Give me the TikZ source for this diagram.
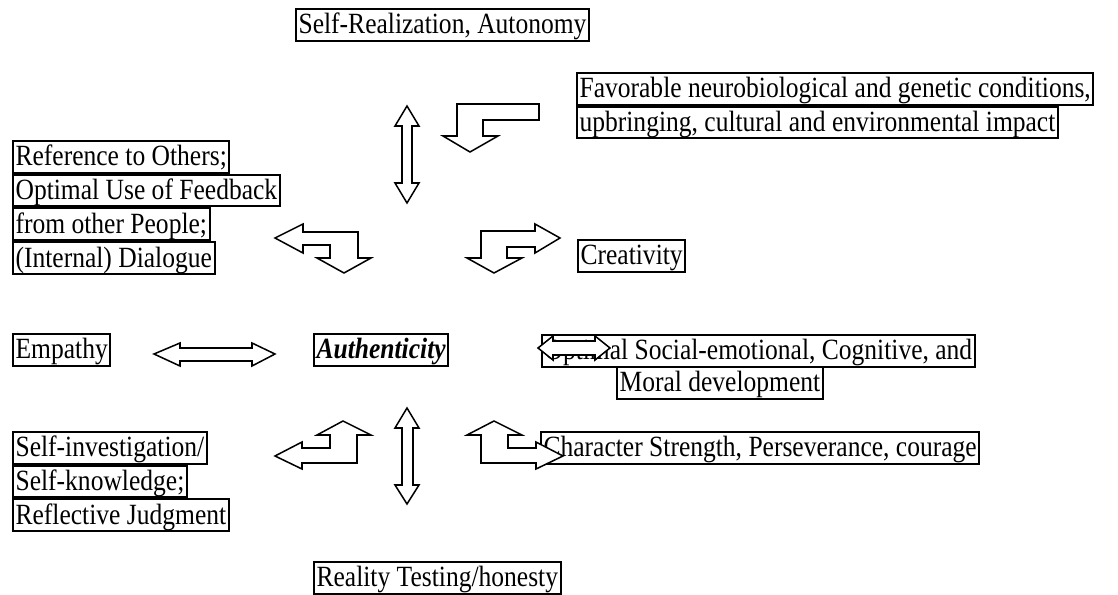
\documentclass[tikz,border=0pt]{standalone}
\usepackage{fontspec}
\setmainfont[FakeStretch=0.87]{Liberation Serif}

\begin{document}
\begin{tikzpicture}[x=0.46pt, y=-0.46pt,
    tbox/.style={draw=black, line width=0.9pt, anchor=north west, inner xsep=1.2pt, inner ysep=0.3pt,
      text height=11.2pt, text depth=2.8pt, font=\fontsize{13.5}{15}\selectfont},
    blk/.style={draw=black, fill=white, line width=0.7pt}]
    \useasboundingbox (0,0) rectangle (1118,595);

    \node[tbox] (selfreal) at (295, 8) {Self-Realization, Autonomy};
    \node[tbox] (fav1) at (576, 72) {Favorable neurobiological and genetic conditions,};
    \node[tbox] (fav2) at (fav1.south west) {upbringing, cultural and environmental impact};
    \node[tbox] (ref1) at (12, 140) {Reference to Others;};
    \node[tbox] (ref2) at (ref1.south west) {Optimal Use of Feedback};
    \node[tbox] (ref3) at (ref2.south west) {from other People;};
    \node[tbox] (ref4) at (ref3.south west) {(Internal) Dialogue};
    \node[tbox] (creat) at (577, 239) {Creativity};
    \node[tbox] (empathy) at (12, 333) {Empathy};
    \node[tbox, font=\fontsize{13.5}{15}\selectfont\bfseries\itshape] (auth) at (313, 333) {Authenticity};
    \node[tbox] (optim1) at (541, 334) {Optimal Social-emotional, Cognitive, and};
    \node[tbox] (optim2) at (616, 366) {Moral development};
    \node[tbox] (selfinv1) at (12, 431) {Self-investigation/};
    \node[tbox] (selfinv2) at (selfinv1.south west) {Self-knowledge;};
    \node[tbox] (selfinv3) at (selfinv2.south west) {Reflective Judgment};
    \node[tbox] (charstr) at (540, 431) {Character Strength, Perseverance, courage};
    \node[tbox] (reality) at (313, 561) {Reality Testing/honesty};

    \draw[blk] (407,106) -- (419,126) -- (412,126) -- (412,183) -- (419,183) -- (407,203)
        -- (395,183) -- (402,183) -- (402,126) -- (395,126) -- cycle;
    \draw[blk] (539,104) -- (457,104) -- (457,136) -- (443,136) -- (470,152) -- (498,136)
        -- (483,136) -- (483,120) -- (539,120) -- cycle;
    \draw[blk] (275,238) -- (303,224) -- (303,232) -- (358,232) -- (358,258) -- (371,258)
        -- (344,273) -- (317,258) -- (330,258) -- (330,245) -- (303,245) -- (303,253) -- cycle;
    \draw[blk] (481,231) -- (535,231) -- (535,224) -- (560,238) -- (535,253) -- (535,247)
        -- (507,247) -- (507,258) -- (522,258) -- (494,273) -- (467,258) -- (481,258) -- cycle;
    \draw[blk] (154,354) -- (180,343) -- (180,348) -- (252,348) -- (252,343) -- (275,354)
        -- (252,366) -- (252,361) -- (180,361) -- (180,366) -- cycle;
    \draw[blk] (538,348) -- (553,336) -- (553,341) -- (595,341) -- (595,336) -- (610,348)
        -- (595,360) -- (595,355) -- (553,355) -- (553,360) -- cycle;
    \draw[blk] (275,456) -- (302,442) -- (302,448) -- (330,448) -- (330,435) -- (317,435)
        -- (343,421) -- (371,435) -- (357,435) -- (357,463) -- (302,463) -- (302,469) -- cycle;
    \draw[blk] (407,408) -- (419,428) -- (413,428) -- (413,485) -- (419,485) -- (407,504)
        -- (395,485) -- (402,485) -- (402,428) -- (395,428) -- cycle;
    \draw[blk] (481,463) -- (481,435) -- (467,435) -- (494,421) -- (522,435) -- (508,435)
        -- (508,448) -- (536,448) -- (536,442) -- (563,456) -- (536,469) -- (536,463) -- cycle;
\end{tikzpicture}
\end{document}
